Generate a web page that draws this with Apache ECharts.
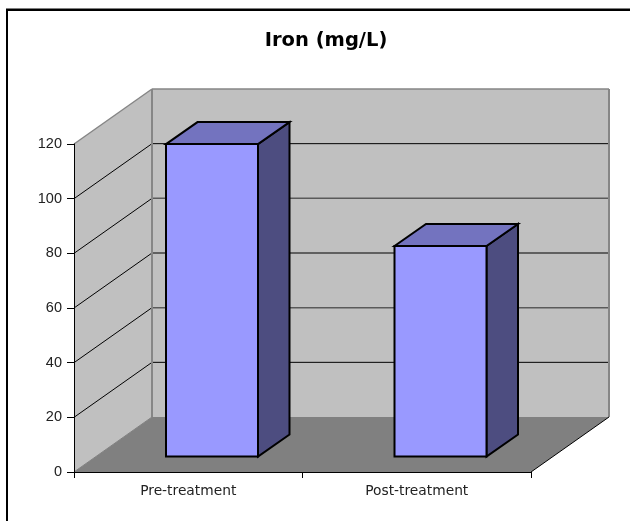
<!DOCTYPE html>
<html>
<head>
<meta charset="utf-8">
<style>html,body{margin:0;padding:0;background:#fff}#chart{width:630px;height:521px}</style>
<script src="https://cdn.jsdelivr.net/npm/echarts@6/dist/echarts.min.js"></script>
</head>
<body>
<div id="chart"></div>
<script>
const categories = ['Pre-treatment', 'Post-treatment'];
const ironValues = [114.3, 77];
const yTicks = [0, 20, 40, 60, 80, 100, 120];

// Pseudo-3D projection of the plot box
const WALL_DX = 78, WALL_DY = -55;
const BAR_INSET_DX = 23.75, BAR_INSET_DY = -15.5;
const BAR_DEPTH_DX = 31.5, BAR_DEPTH_DY = -22;
const BAR_WIDTH = 92;

const chart = echarts.init(document.getElementById('chart'));

function poly(points, fill, stroke, lineWidth) {
  return { type: 'polygon', shape: { points },
    style: { fill, stroke: stroke || 'none', lineWidth: lineWidth || 0, lineJoin: 'miter' } };
}
function line(a, b, stroke, lineWidth) {
  return { type: 'line', shape: { x1: a[0], y1: a[1], x2: b[0], y2: b[1] },
    style: { stroke, lineWidth: lineWidth || 1 } };
}

// Walls, floor and gridlines
function renderBox(params, api) {
  if (params.dataIndex !== 0) return null;
  const s = params.coordSys;
  const x0 = s.x, x1 = s.x + s.width;
  const y0 = api.coord([0, 0])[1], yTop = api.coord([0, 120])[1];
  const dx = WALL_DX, dy = WALL_DY;
  const edge = '#868686';
  const children = [
    poly([[x0, yTop], [x0 + dx, yTop + dy], [x0 + dx, y0 + dy], [x0, y0]], '#c0c0c0'),
    poly([[x0 + dx, yTop + dy], [x1 + dx, yTop + dy], [x1 + dx, y0 + dy], [x0 + dx, y0 + dy]], '#c0c0c0'),
    poly([[x0, y0], [x0 + dx, y0 + dy], [x1 + dx, y0 + dy], [x1, y0]], '#808080')
  ];
  yTicks.forEach(function (t) {
    if (t === 0 || t === 120) return;
    const y = api.coord([0, t])[1];
    const soft = t === 80 || t === 40;
    children.push(line([x0, y], [x0 + dx, y + dy], '#000', 1));
    children.push(line([x0 + dx, y + dy], [x1 + dx, y + dy], soft ? '#5a5a5a' : '#000', soft ? 1.5 : 1));
  });
  children.push(line([x0, yTop], [x0 + dx, yTop + dy], edge, 1.5));
  children.push(line([x0 + dx, yTop + dy], [x1 + dx, yTop + dy], edge, 1.5));
  children.push(line([x1 + dx, yTop + dy], [x1 + dx, y0 + dy], edge, 2));
  children.push(line([x0 + dx, yTop + dy], [x0 + dx, y0 + dy], edge, 2));
  children.push(line([x0, y0], [x0 + dx, y0 + dy], '#808080', 1));
  children.push(line([x1, y0], [x1 + dx, y0 + dy], '#000', 1));
  return { type: 'group', children };
}

// One box-shaped column
function renderBar(params, api) {
  const idx = api.value(0);
  const val = api.value(1);
  const c = api.coord([idx, val]);
  const b = api.coord([idx, 0]);
  const left = c[0] - BAR_WIDTH / 2 + BAR_INSET_DX;
  const right = left + BAR_WIDTH;
  const top = c[1] + BAR_INSET_DY;
  const bot = b[1] + BAR_INSET_DY;
  const ddx = BAR_DEPTH_DX, ddy = BAR_DEPTH_DY;
  return { type: 'group', children: [
    poly([[right, top], [right + ddx, top + ddy], [right + ddx, bot + ddy], [right, bot]], '#4d4d80', '#000', 2),
    poly([[left, top], [left + ddx, top + ddy], [right + ddx, top + ddy], [right, top]], '#7373bf', '#000', 2),
    poly([[left, top], [right, top], [right, bot], [left, bot]], '#9999ff', '#000', 2)
  ] };
}

chart.setOption({
  animation: false,
  title: {
    text: 'Iron (mg/L)', left: 321, top: 26, textAlign: 'center',
    textStyle: { fontFamily: 'DejaVu Sans', fontSize: 19.5, fontWeight: 'bold', color: '#000' }
  },
  grid: { left: 74, right: 99, top: 144, bottom: 49 },
  xAxis: {
    type: 'category', data: categories,
    axisLine: { lineStyle: { color: '#000', width: 1 } },
    axisTick: { show: true, length: 6, lineStyle: { color: '#000' } },
    axisLabel: { color: '#222', fontFamily: 'DejaVu Sans', fontSize: 13.8, margin: 12 },
    z: 5
  },
  yAxis: {
    type: 'value', min: 0, max: 120, interval: 20,
    splitLine: { show: false },
    axisLine: { show: true, lineStyle: { color: '#000', width: 1 } },
    axisTick: { show: true, length: 7, lineStyle: { color: '#000' } },
    axisLabel: { color: '#222', fontFamily: 'Liberation Sans', fontSize: 14.5, margin: 12 },
    z: 5
  },
  series: [
    { type: 'custom', renderItem: renderBox, data: [[0, 0]], z: 1, silent: true },
    { type: 'custom', renderItem: renderBar,
      data: ironValues.map(function (v, i) { return [i, v]; }), z: 3,
      encode: { x: 0, y: 1 } }
  ],
  // Frame lines along the top and left of the chart area
  graphic: [
    { type: 'line', silent: true, z: 10, shape: { x1: 6, y1: 9.8, x2: 630, y2: 9.8 },
      style: { stroke: '#000', lineWidth: 2.5 } },
    { type: 'line', silent: true, z: 10, shape: { x1: 7, y1: 9, x2: 7, y2: 521 },
      style: { stroke: '#000', lineWidth: 2 } }
  ]
});
</script>
</body>
</html>
